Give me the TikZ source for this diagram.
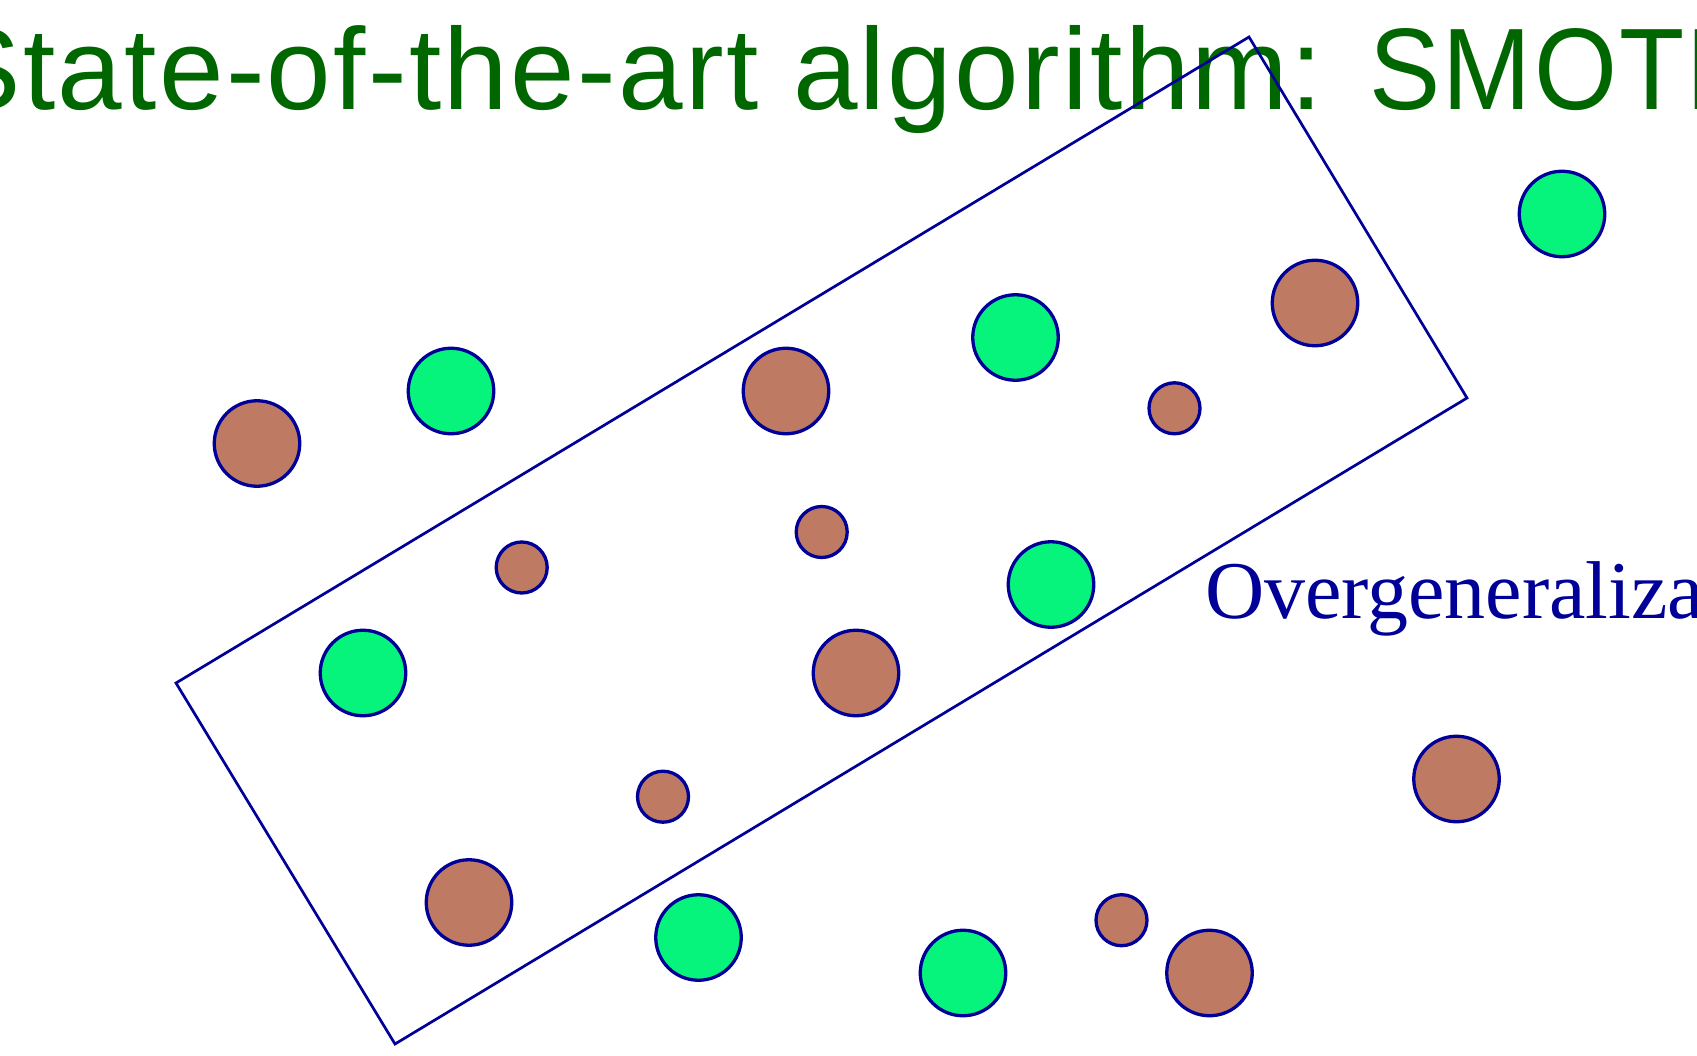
\documentclass[tikz,border=0pt]{standalone}
\usepackage{fontspec}
\setmainfont{Liberation Serif}
\newfontfamily\headfont[LetterSpace=2.0]{Liberation Sans}
\definecolor{headgreen}{RGB}{0,102,0}
\definecolor{lineblue}{RGB}{0,0,153}
\definecolor{majgreen}{RGB}{6,244,124}
\definecolor{minbrown}{RGB}{190,122,98}

\begin{document}
\begin{tikzpicture}[x=1pt,y=-1pt,
	sample/.style={circle, draw=lineblue, line width=3.3pt, inner sep=0pt},
	majority/.style={sample, fill=majgreen, minimum size=85.5pt},
	minority/.style={sample, fill=minbrown, minimum size=85.5pt},
	synthetic/.style={sample, fill=minbrown, minimum size=51pt}]
		\useasboundingbox (0,0) rectangle (1697,1056);
		\clip (0,0) rectangle (1697,1056);
		\fill[white] (0,0) rectangle (1697,1056);
		
		% Title
		\node[anchor=base west, inner sep=0pt, text=headgreen, font=\headfont\fontsize{116}{120}\selectfont] (title) at (-56.5,110) {State-of-the-art algorithm: {\addfontfeature{FakeStretch=0.92}SMOTE}};
		
		% Majority samples
		\node[majority] (g1) at (1562,214) {};
		\node[majority] (g2) at (451,391) {};
		\node[majority] (g3) at (1015.5,337.5) {};
		\node[majority] (g4) at (1051,584.5) {};
		\node[majority] (g5) at (363,673) {};
		\node[majority] (g6) at (698.5,937.5) {};
		\node[majority] (g7) at (963,973) {};
		
		% Minority samples
		\node[minority] (b1) at (257,443.5) {};
		\node[minority] (b2) at (786,391) {};
		\node[minority] (b3) at (1315,303) {};
		\node[minority] (b4) at (856,673) {};
		\node[minority] (b5) at (1456.5,779) {};
		\node[minority] (b6) at (469,902.5) {};
		\node[minority] (b7) at (1209.5,973) {};
		
		% Synthetic samples
		\node[synthetic] (s1) at (1174.5,408.3) {};
		\node[synthetic] (s2) at (521.7,567.5) {};
		\node[synthetic] (s3) at (821.7,532) {};
		\node[synthetic] (s4) at (663,796.7) {};
		\node[synthetic] (s5) at (1121.5,920.2) {};
		
		% Region
		\coordinate (rt) at (1249,37);
		\coordinate (rr) at (1467,398);
		\coordinate (rb) at (395,1044);
		\coordinate (rl) at (176,683);
		\draw[lineblue, line width=2.7pt, line join=miter] (rt) -- (rr) -- (rb) -- (rl) -- cycle;
		
		% Annotation
		\node[anchor=base west, inner sep=0pt, text=lineblue, font=\fontsize{82}{86}\selectfont] (over) at (1204.8,618) {Overgeneraliza};
	\end{tikzpicture}
\end{document}
